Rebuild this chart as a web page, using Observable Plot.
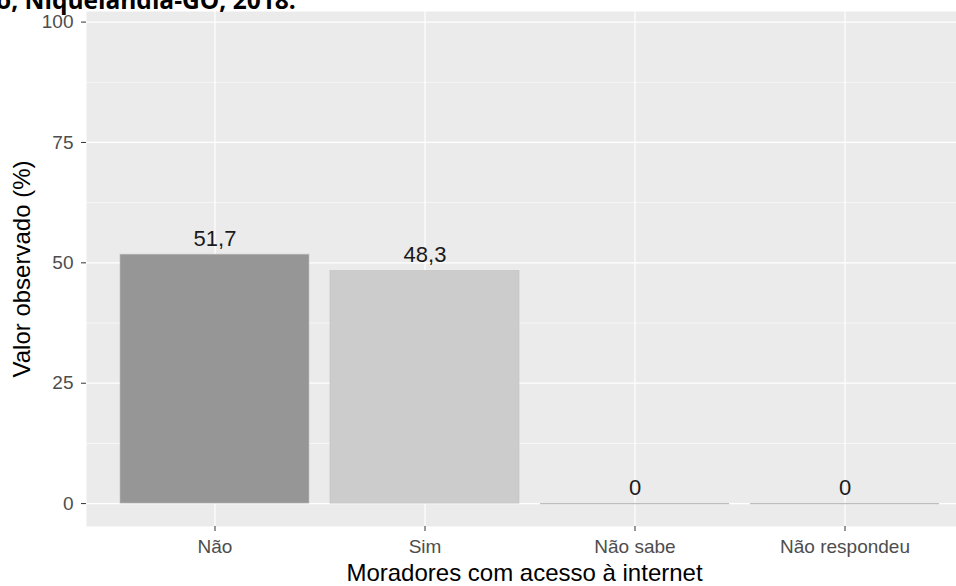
<!DOCTYPE html>
<html><head><meta charset="utf-8">
<script src="https://cdn.jsdelivr.net/npm/d3@7"></script>
<script src="https://cdn.jsdelivr.net/npm/@observablehq/plot@0.6"></script>
<style>
body{margin:0;background:#fff;}
#wrap{position:relative;width:956px;height:586px;overflow:hidden;font-family:"Liberation Sans",Arial,sans-serif;}
#title{position:absolute;left:-4px;top:-10.5px;font-family:"Open Sans","Liberation Sans",sans-serif;font-weight:bold;font-size:24.5px;white-space:nowrap;line-height:0.8;color:#000;z-index:2;}
#chart{position:absolute;left:0;top:0;}
</style></head><body>
<div id="wrap"><div id="chart"></div><div id="title">o, Niquelândia-GO, 2018.</div></div>
<script>
const categories = ["Não", "Sim", "Não sabe", "Não respondeu"];
const values = [51.7, 48.3, 0, 0];
const fills = ["#969696", "#CCCCCC", "#CCCCCC", "#CCCCCC"];
const yTicks = [0, 25, 50, 75, 100];
const yMinor = [12.5, 37.5, 62.5, 87.5];
const xTitle = "Moradores com acesso à internet";
const yTitle = "Valor observado (%)";

const data = categories.map((c, i) => ({
  cat: c, val: values[i], fill: fills[i],
  label: values[i] === 0 ? "0" : String(values[i]).replace(".", ",")
}));

const chart = Plot.plot({
  width: 956, height: 586,
  marginLeft: 86, marginRight: 0, marginTop: 11, marginBottom: 60,
  style: {fontFamily: "'Liberation Sans', Arial, sans-serif", background: "transparent", overflow: "hidden"},
  x: {domain: categories, range: [86, 972], paddingInner: 0.1, paddingOuter: 0.15, label: null},
  y: {domain: [-4.76, 102.2], label: null},
  marks: [
    Plot.frame({fill: "#EBEBEB", stroke: null}),
    Plot.gridY(yMinor, {stroke: "white", strokeOpacity: 1, strokeWidth: 0.6}),
    Plot.gridY(yTicks, {stroke: "white", strokeOpacity: 1, strokeWidth: 1.2}),
    Plot.gridX(categories, {stroke: "white", strokeOpacity: 1, strokeWidth: 1.2}),
    Plot.barY(data, {x: "cat", y: "val", fill: "fill", stroke: "#BEBEBE", strokeWidth: 0.6}),
    Plot.tickY(data.filter(d => d.val === 0), {x: "cat", y: "val", stroke: "#BEBEBE", strokeWidth: 1.2}),
    Plot.text(data, {x: "cat", y: "val", text: "label", dy: -16, fontSize: 22, fill: "#1a1a1a"}),
    Plot.axisY(yTicks, {tickSize: 5, tickPadding: 8, fontSize: 19, color: "#4D4D4D", stroke: "#333", label: null}),
    Plot.axisX({tickSize: 5, tickPadding: 8, fontSize: 19, color: "#4D4D4D", stroke: "#333", label: null}),
    Plot.text([xTitle], {frameAnchor: "bottom", textAnchor: "middle", lineAnchor: "middle", dx: 3, dy: 47, fontSize: 24, fill: "#000"}),
    Plot.text([yTitle], {frameAnchor: "left", textAnchor: "middle", lineAnchor: "middle", dx: -64, rotate: -90, fontSize: 24, fill: "#000"})
  ]
});
document.getElementById("chart").appendChild(chart);
</script>
</body></html>
